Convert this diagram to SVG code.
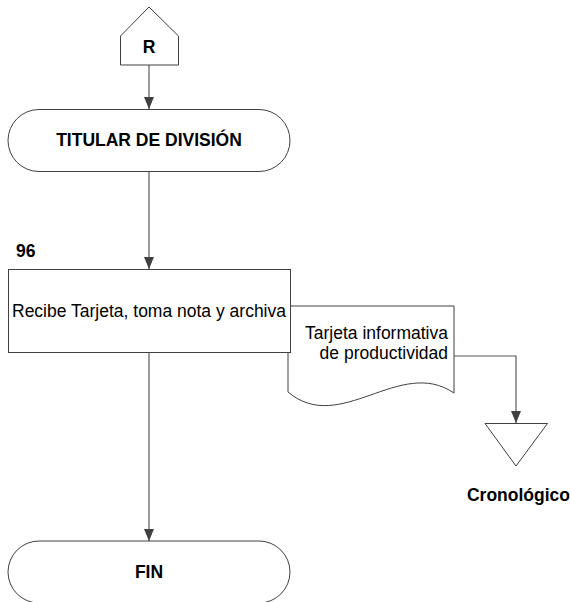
<svg xmlns="http://www.w3.org/2000/svg" width="570" height="602" viewBox="0 0 570 602">
  <defs>
    <marker id="arrow" viewBox="0 0 12 10" refX="12" refY="5" markerWidth="12" markerHeight="10" markerUnits="userSpaceOnUse" orient="auto">
      <path d="M0,0 L12,5 L0,10 Z" fill="#404040"/>
    </marker>
  </defs>
  <style>
    .shape { fill: #ffffff; stroke: #404040; stroke-width: 1; }
    .conn { fill: none; stroke: #595959; stroke-width: 1.2; }
    .t { font-family: "Liberation Sans", Arial, sans-serif; font-size: 17.5px; fill: #000000; }
    .b { font-weight: bold; }
  </style>
  <rect width="570" height="602" fill="#ffffff"/>

  <!-- connectors -->
  <g id="connectors">
    <path class="conn" d="M149,65 V109" marker-end="url(#arrow)"/>
    <path class="conn" d="M149,171 V269" marker-end="url(#arrow)"/>
    <path class="conn" d="M149,353 V541" marker-end="url(#arrow)"/>
    <path class="conn" d="M454,356 H516 V423" marker-end="url(#arrow)"/>
  </g>

  <!-- off-page reference -->
  <g id="node-r">
    <path class="shape" d="M120.5,36 L149,7 L178.5,36 V65 H120.5 Z"/>
    <text class="t b" x="149" y="53" text-anchor="middle" font-size="15">R</text>
  </g>

  <!-- start terminator -->
  <g id="node-titular">
    <rect class="shape" x="8" y="109.5" width="282" height="62" rx="31" ry="31"/>
    <text class="t b" x="149" y="146" text-anchor="middle">TITULAR DE DIVISIÓN</text>
  </g>

  <!-- document -->
  <g id="node-tarjeta">
    <path class="shape" d="M288,306 H454 V393 C400,356 340,436 288,392 Z"/>
    <text class="t" x="448" y="339" text-anchor="end">Tarjeta informativa</text>
    <text class="t" x="448" y="359" text-anchor="end">de productividad</text>
  </g>

  <!-- activity 96 -->
  <g id="node-96">
    <text class="t b" x="16" y="257" font-size="14">96</text>
    <rect class="shape" x="8.5" y="269.5" width="282" height="83"/>
    <text class="t" x="149" y="317" text-anchor="middle">Recibe Tarjeta, toma nota y archiva</text>
  </g>

  <!-- archive -->
  <g id="node-archivo">
    <path class="shape" d="M485,423.5 H547.5 L516,466 Z"/>
    <text class="t b" x="518.5" y="501" text-anchor="middle" font-size="16.5">Cronológico</text>
  </g>

  <!-- end terminator -->
  <g id="node-fin">
    <rect class="shape" x="8" y="541" width="282" height="62" rx="31" ry="31"/>
    <text class="t b" x="149" y="578" text-anchor="middle">FIN</text>
  </g>
</svg>
